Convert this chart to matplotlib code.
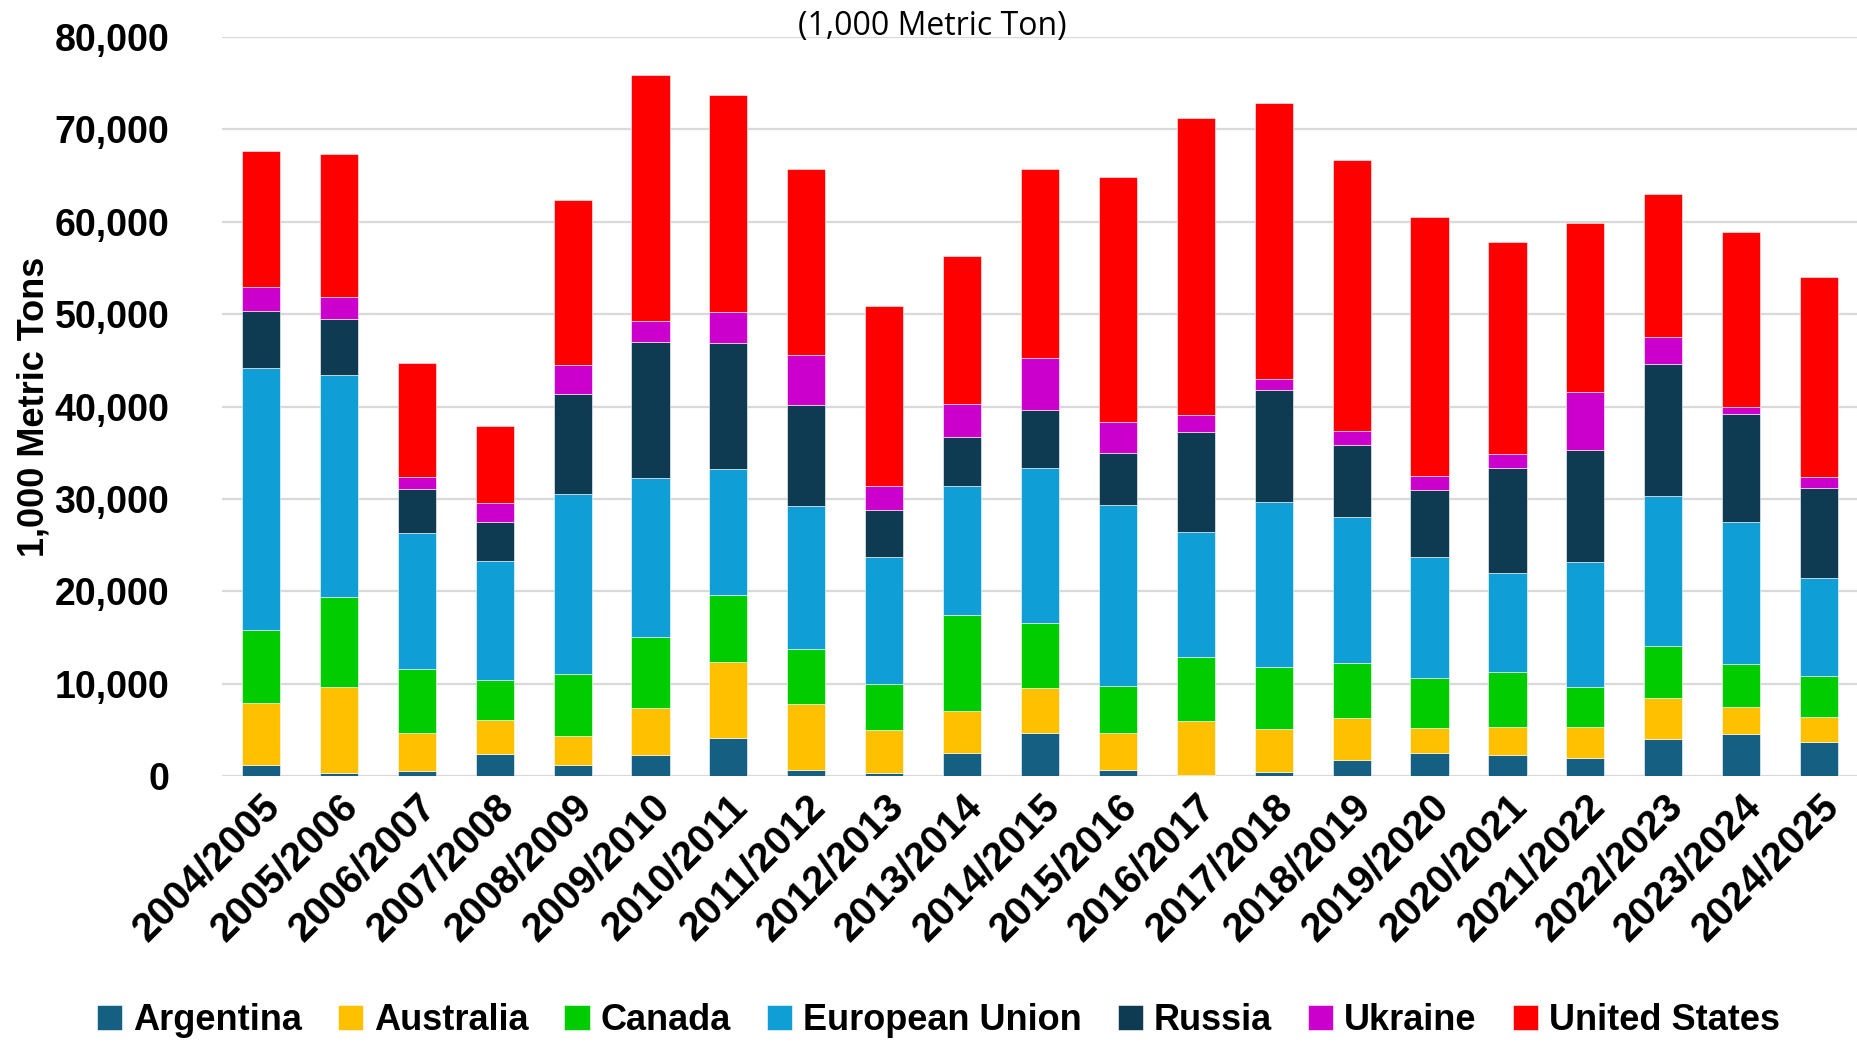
import numpy as np
import matplotlib
matplotlib.use('Agg')
import matplotlib.pyplot as plt

# marketing years
years = ['2004/2005', '2005/2006', '2006/2007', '2007/2008', '2008/2009', '2009/2010',
         '2010/2011', '2011/2012', '2012/2013', '2013/2014', '2014/2015', '2015/2016',
         '2016/2017', '2017/2018', '2018/2019', '2019/2020', '2020/2021', '2021/2022',
         '2022/2023', '2023/2024', '2024/2025']

# 1,000 metric tons
argentina = [1200, 300, 550, 2350, 1200, 2250, 4150, 700, 300, 2500, 4700,
             700, 150, 400, 1700, 2500, 2250, 1900, 4000, 4500, 3700]
australia = [6750, 9350, 4150, 3750, 3150, 5150, 8150, 7100, 4700, 4500, 4800,
             4000, 5850, 4650, 4550, 2650, 3100, 3450, 4400, 2950, 2700]
canada = [7850, 9700, 6900, 4250, 6650, 7650, 7350, 5950, 5000, 10450, 7050,
          5050, 6850, 6750, 6000, 5450, 5900, 4250, 5650, 4650, 4450]
eu = [28400, 24100, 14750, 12900, 19500, 17200, 13550, 15500, 13750, 13950, 16750,
      19600, 13600, 17850, 15750, 13150, 10750, 13600, 16250, 15450, 10600]
russia = [6100, 6000, 4750, 4250, 10900, 14750, 13700, 10900, 5000, 5250, 6300,
          5650, 10750, 12100, 7850, 7250, 11300, 12100, 14350, 11650, 9750]
ukraine = [2600, 2400, 1250, 2100, 3100, 2250, 3350, 5400, 2600, 3600, 5650,
           3300, 1900, 1200, 1500, 1500, 1550, 6250, 2900, 800, 1200]
usa = [14750, 15500, 12400, 8300, 17850, 26600, 23450, 20200, 19550, 16050, 20500,
       26550, 32100, 29900, 29350, 28000, 22950, 18350, 15450, 18900, 21650]

series = [('Argentina', argentina, '#156082'),
          ('Australia', australia, '#FFC000'),
          ('Canada', canada, '#00CC00'),
          ('European Union', eu, '#0F9ED5'),
          ('Russia', russia, '#0E3A52'),
          ('Ukraine', ukraine, '#CC00CC'),
          ('United States', usa, '#FF0000')]

plt.rcParams['font.family'] = ['Liberation Sans', 'DejaVu Sans']

fig = plt.figure(figsize=(18.58, 10.48), dpi=100)
ax = fig.add_axes([0.1195, 0.2595, 0.8805, 0.7052])

x = np.arange(len(years))
bottom = np.zeros(len(years))
for name, vals, col in series:
    vals = np.array(vals, dtype=float)
    ax.bar(x, vals, width=0.49, bottom=bottom, color=col, label=name,
           edgecolor='white', linewidth=0.4, zorder=3)
    bottom += vals

ax.set_xlim(-0.5, len(years) - 0.5)
ax.set_ylim(0, 80000)
ax.set_yticks(np.arange(0, 80001, 10000))
ax.set_yticklabels([f'{v:,}' for v in range(0, 80001, 10000)],
                   fontsize=27, fontweight='bold')
ax.yaxis.grid(True, color='#D9D9D9', linewidth=1.6, zorder=0)
ax.set_axisbelow(True)
ax.tick_params(axis='y', length=0, pad=38)
ax.tick_params(axis='x', length=0, pad=8)
ax.set_xticks(x)
ax.set_xticklabels(years, rotation=45, ha='right', rotation_mode='anchor',
                   fontsize=29, fontweight='bold')
for s in ax.spines.values():
    s.set_visible(False)

ax.set_ylabel('1,000 Metric Tons', fontsize=26, fontweight='bold')
ax.yaxis.set_label_coords(-0.104, 0.5)

fig.text(0.502, 0.975, '(1,000 Metric Ton)', ha='center', va='center',
         fontsize=23, family=['Open Sans', 'DejaVu Sans'])

fig.legend(loc='center', bbox_to_anchor=(0.505, 0.026), ncol=7, frameon=False,
           prop={'size': 26, 'weight': 'bold'}, handlelength=0.7, handleheight=0.7,
           handletextpad=0.3, columnspacing=1.0)

fig.savefig('out.png', dpi=100)
